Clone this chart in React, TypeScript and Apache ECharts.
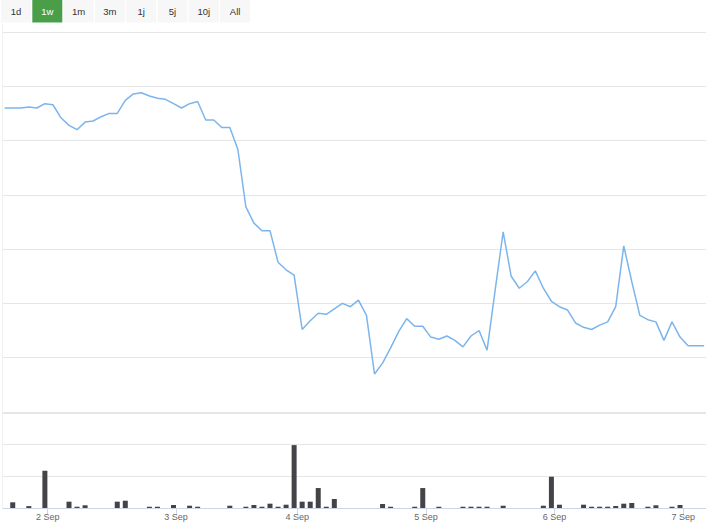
import React, { useEffect, useRef } from "react";
import * as echarts from "echarts";

// Price series (equally spaced, ordinal points)
const PRICES: number[] = [
  14.80, 14.80, 14.80, 14.81, 14.80, 14.84, 14.83, 14.71, 14.64, 14.60,
  14.67, 14.68, 14.72, 14.75, 14.75, 14.87, 14.93, 14.94, 14.91, 14.89,
  14.88, 14.84, 14.80, 14.84, 14.86, 14.69, 14.69, 14.62, 14.62, 14.42,
  13.89, 13.74, 13.67, 13.67, 13.38, 13.31, 13.26, 12.76, 12.84, 12.91,
  12.90, 12.95, 13.00, 12.97, 13.03, 12.89, 12.35, 12.45, 12.59, 12.74,
  12.86, 12.79, 12.79, 12.69, 12.67, 12.70, 12.66, 12.60, 12.70, 12.75,
  12.57, 13.12, 13.66, 13.25, 13.14, 13.20, 13.30, 13.14, 13.02, 12.97,
  12.94, 12.82, 12.78, 12.76, 12.80, 12.83, 12.97, 13.53, 13.20, 12.89,
  12.85, 12.83, 12.66, 12.83, 12.69, 12.61, 12.61, 12.61,
];

// Volume series (same point indices)
const VOLUMES: number[] = [
  0, 900, 0, 300, 0, 5880, 0, 0, 1000, 200,
  430, 0, 0, 0, 1000, 1150, 0, 0, 200, 200,
  0, 470, 0, 360, 200, 0, 0, 0, 360, 0,
  200, 470, 200, 680, 200, 520, 9930, 1000, 1000, 3150,
  200, 1420, 0, 0, 0, 0, 0, 630, 200, 0,
  0, 200, 3150, 0, 200, 0, 0, 200, 200, 200,
  200, 0, 360, 0, 0, 0, 0, 360, 4940, 520,
  0, 0, 520, 200, 200, 200, 320, 680, 790, 0,
  200, 430, 0, 200, 470, 0, 0, 0,
];

// Date tick positions (in point-index units) and labels
const TICK_POS: number[] = [5.35, 21.3, 36.4, 52.4, 68.4, 84.4];
const TICK_LABELS: string[] = ["2 Sep", "3 Sep", "4 Sep", "5 Sep", "6 Sep", "7 Sep"];

// Range selector buttons
const BUTTONS: string[] = ["1d", "1w", "1m", "3m", "1j", "5j", "10j", "All"];
const SELECTED_BUTTON = "1w";

const FONT = "'Liberation Sans', Arial, sans-serif";

export default function App() {
  const ref = useRef<HTMLDivElement>(null);

  useEffect(() => {
    if (!ref.current) return;
    const chart = echarts.init(ref.current, undefined, { renderer: "svg" });

    const X_MIN = -0.21;
    const X_MAX = 87.23;

    const buttonGraphics: any[] = [];
    BUTTONS.forEach((b, i) => {
      const x = 1 + 31.3 * i;
      const sel = b === SELECTED_BUTTON;
      buttonGraphics.push({
        type: "rect",
        shape: { x, y: 0, width: 30, height: 22.5 },
        style: { fill: sel ? "#4a9e48" : "#f7f7f7" },
        silent: true,
      });
      buttonGraphics.push({
        type: "text",
        x: x + 15,
        y: 11.5,
        style: {
          text: b,
          fill: sel ? "#ffffff" : "#333333",
          font: `9.5px ${FONT}`,
          align: "center",
          verticalAlign: "middle",
        },
        silent: true,
      });
    });
    buttonGraphics.push({
      type: "line",
      shape: { x1: 2.5, y1: 24, x2: 2.5, y2: 508 },
      style: { stroke: "#f0f0f0", lineWidth: 1 },
      silent: true,
    });

    chart.setOption({
      animation: false,
      backgroundColor: "#ffffff",
      grid: [
        { left: 3, right: 0, top: 32, height: 380 },
        { left: 3, right: 0, top: 413, height: 95 },
      ],
      xAxis: [
        {
          type: "value",
          gridIndex: 0,
          min: X_MIN,
          max: X_MAX,
          show: false,
        },
        {
          type: "value",
          gridIndex: 1,
          min: X_MIN,
          max: X_MAX,
          axisLine: { show: true, onZero: false, lineStyle: { color: "#ccd6eb", width: 1 } },
          axisTick: {
            show: true,
            customValues: TICK_POS,
            length: 7,
            lineStyle: { color: "#ccd6eb" },
          },
          axisLabel: {
            show: true,
            customValues: TICK_POS,
            color: "#666666",
            fontSize: 9,
            fontFamily: FONT,
            margin: 4,
            formatter: (v: number) => {
              const k = TICK_POS.findIndex((p) => Math.abs(p - v) < 0.01);
              return k >= 0 ? TICK_LABELS[k] : "";
            },
          },
          splitLine: { show: false },
        },
      ],
      yAxis: [
        {
          type: "value",
          gridIndex: 0,
          min: 12,
          max: 15.5,
          interval: 0.5,
          axisLabel: { show: false },
          axisLine: { show: false },
          axisTick: { show: false },
          splitLine: { show: true, lineStyle: { color: "#e6e6e6", width: 1 } },
        },
        {
          type: "value",
          gridIndex: 1,
          min: 0,
          max: 15000,
          interval: 5000,
          axisLabel: { show: false },
          axisLine: { show: false },
          axisTick: { show: false },
          splitLine: { show: true, lineStyle: { color: "#e6e6e6", width: 1 } },
        },
      ],
      graphic: buttonGraphics,
      series: [
        {
          type: "line",
          xAxisIndex: 0,
          yAxisIndex: 0,
          data: PRICES.map((p, i) => [i, p]),
          showSymbol: false,
          symbol: "none",
          lineStyle: { color: "#7cb5ec", width: 1.5 },
          itemStyle: { color: "#7cb5ec" },
          clip: true,
        },
        {
          type: "bar",
          xAxisIndex: 1,
          yAxisIndex: 1,
          data: VOLUMES.map((v, i) => [i, v]),
          barWidth: 5,
          itemStyle: { color: "#434348" },
        },
      ],
    });

    return () => chart.dispose();
  }, []);

  return (
    <div
      ref={ref}
      style={{ position: "absolute", left: 0, top: 0, width: 706, height: 524 }}
    />
  );
}
